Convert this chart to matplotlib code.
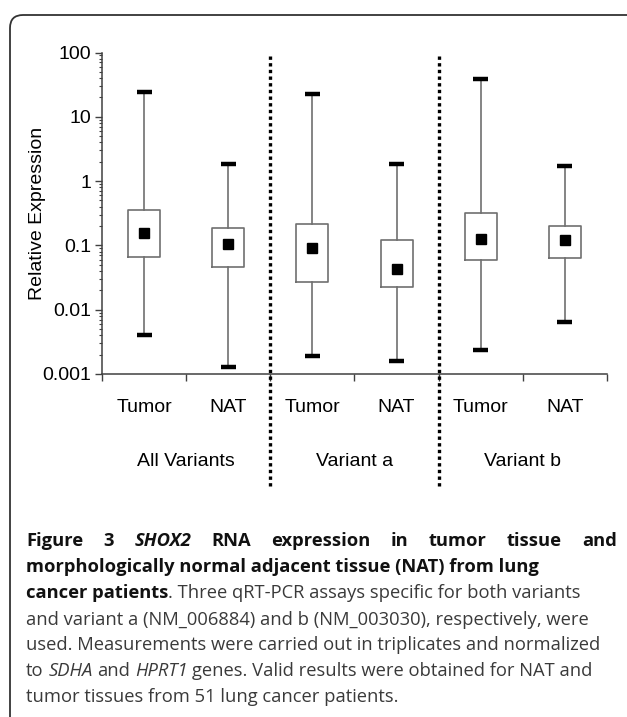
import matplotlib
matplotlib.use("Agg")
import matplotlib.pyplot as plt
from matplotlib.patches import FancyBboxPatch
import numpy as np

# values
categories = ["Tumor", "NAT", "Tumor", "NAT", "Tumor", "NAT"]
groups = ["All Variants", "Variant a", "Variant b"]
whisker_high = [24.4, 1.83, 23.0, 1.83, 38.5, 1.72]
q3 = [0.36, 0.189, 0.213, 0.120, 0.316, 0.201]
center = [0.156, 0.105, 0.092, 0.0425, 0.128, 0.120]
q1 = [0.067, 0.0457, 0.027, 0.0223, 0.0587, 0.063]
whisker_low = [0.0041, 0.00129, 0.0019, 0.00157, 0.00233, 0.00652]

W, H = 627, 717
fig = plt.figure(figsize=(W / 100, H / 100), dpi=100)
fig.patch.set_facecolor("white")

# frame round the whole figure (rounded top-left corner, cut at right/bottom)
frame = FancyBboxPatch((0.10, -1.0), 7.5, (H - 15) / 100 + 1.0,
                       boxstyle="round,pad=0,rounding_size=0.13",
                       transform=fig.dpi_scale_trans, facecolor="none",
                       edgecolor="#333333", linewidth=1.3)
fig.add_artist(frame)

ax = fig.add_axes([102 / W, 1 - 374 / H, (607 - 102) / W, (374 - 52.5) / H])

stats = []
for i in range(len(categories)):
    stats.append({"whislo": whisker_low[i], "q1": q1[i], "med": center[i],
                  "q3": q3[i], "whishi": whisker_high[i], "mean": center[i],
                  "fliers": []})

pos = np.arange(len(categories))
ax.bxp(stats, positions=pos, widths=0.38, capwidths=0.18,
       showmeans=True, showfliers=False,
       boxprops=dict(color="#707070", linewidth=1.2),
       whiskerprops=dict(color="#707070", linewidth=1.2),
       capprops=dict(color="black", linewidth=3.2, solid_capstyle="butt"),
       medianprops=dict(linewidth=0),
       meanprops=dict(marker="s", markersize=6.5, markerfacecolor="black",
                      markeredgecolor="black"))

ax.set_yscale("log")
ax.set_ylim(0.001, 100)
ax.set_xlim(-0.5, 5.5)
ax.set_yticks([0.001, 0.01, 0.1, 1, 10, 100])
ax.set_yticklabels(["0.001", "0.01", "0.1", "1", "10", "100"])
ax.set_xticks(pos)
ax.set_xticklabels(categories)
ax.set_xticks(np.arange(-0.5, 6, 1.0), minor=True)

font = "Liberation Sans"
fs = 14
for lab in ax.get_yticklabels() + ax.get_xticklabels():
    lab.set_fontfamily(font)
    lab.set_fontsize(fs)
ax.tick_params(axis="x", which="major", length=0, pad=18)
ax.tick_params(axis="x", which="minor", length=5, width=1, color="#404040",
               direction="out")
ax.tick_params(axis="y", which="major", length=5, width=1, color="#404040", pad=3)
ax.tick_params(axis="y", which="minor", length=2.5, width=0.8, color="#404040")

for s in ["top", "right"]:
    ax.spines[s].set_visible(False)
for s in ["left", "bottom"]:
    ax.spines[s].set_color("#404040")
    ax.spines[s].set_linewidth(1.1)

ax.set_ylabel("Relative Expression", fontsize=fs, family=font)
ax.yaxis.set_label_coords((46 - 102) / 505, 0.5)

# dotted separators between variant groups
trans = ax.get_xaxis_transform()
for xs in [1.5, 3.5]:
    ax.plot([xs, xs], [0.99, -0.35], transform=trans, color="black",
            linestyle=(0, (1, 1)), linewidth=2.4, clip_on=False)

for k, g in enumerate(groups):
    ax.text(2 * k + 0.5, -(461 - 374) / (374 - 52.5), g, transform=trans,
            ha="center", va="center", fontsize=fs, family=font)

# caption
cap_font = "Open Sans"
cap_size = 13.2
renderer = fig.canvas.get_renderer()
styles = {"b": ("bold", "normal", "#111111"), "bi": ("bold", "italic", "#111111"),
          "n": ("normal", "normal", "#3a3a3a"), "i": ("normal", "italic", "#3a3a3a")}


def put(x, y, s, st):
    weight, style, color = styles[st]
    t = fig.text(x / W, 1 - y / H, s, fontsize=cap_size, family=cap_font,
                 weight=weight, style=style, color=color, ha="left", va="center")
    return t


def width(s, st):
    t = put(0, 0, s, st)
    w = t.get_window_extent(renderer).width
    t.remove()
    return w


space = width("a a", "n") - width("aa", "n")

x0, x1 = 26, 617
line_y = [541, 567, 593, 620, 645, 671, 697]

# first line is justified
words = [("Figure", "b"), ("3", "b"), ("SHOX2", "bi"), ("RNA", "b"),
         ("expression", "b"), ("in", "b"), ("tumor", "b"), ("tissue", "b"),
         ("and", "b")]
ws = [width(w, st) for w, st in words]
gap = (x1 - x0 - sum(ws)) / (len(words) - 1)
x = x0
for (w, st), wd in zip(words, ws):
    put(x, line_y[0], w, st)
    x += wd + gap

lines = [
    [("morphologically normal adjacent tissue (NAT) from lung", "b")],
    [("cancer patients", "b"), (". Three qRT-PCR assays specific for both variants", "n")],
    [("and variant a (NM_006884) and b (NM_003030), respectively, were", "n")],
    [("used. Measurements were carried out in triplicates and normalized", "n")],
    [("to", "n"), (" SDHA", "i"), (" and", "n"), (" HPRT1", "i"),
     (" genes. Valid results were obtained for NAT and", "n")],
    [("tumor tissues from 51 lung cancer patients.", "n")],
]
for y, segs in zip(line_y[1:], lines):
    x = x0
    for s, st in segs:
        lead = len(s) - len(s.lstrip(" "))
        x += lead * space
        s = s.strip(" ")
        put(x, y, s, st)
        x += width(s, st)

fig.savefig("out.png", dpi=100, facecolor="white")
